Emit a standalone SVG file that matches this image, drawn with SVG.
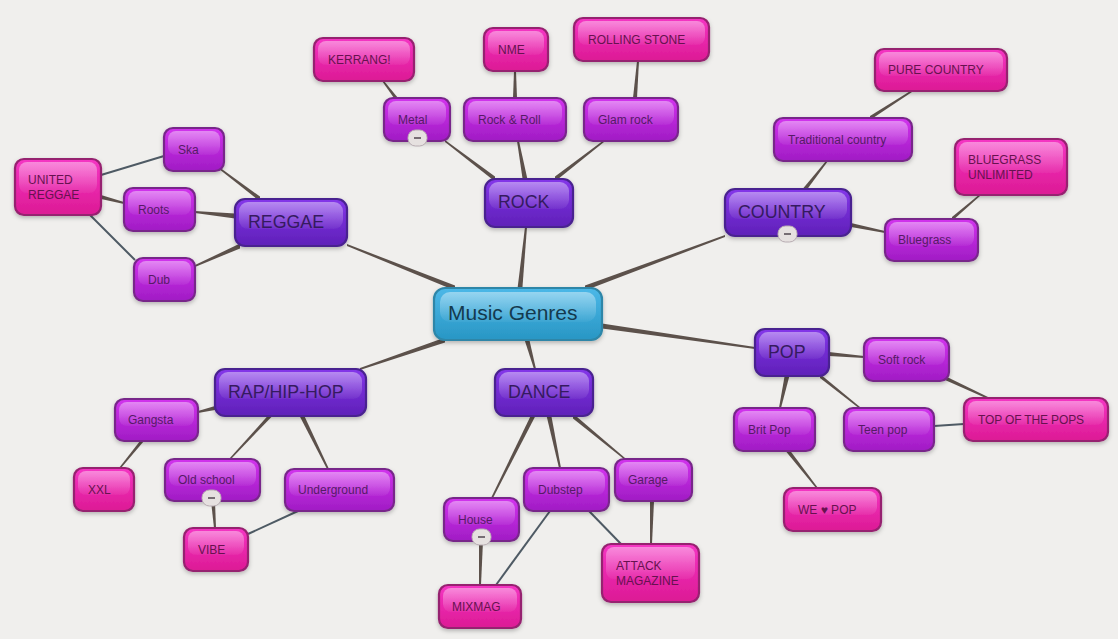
<svg xmlns="http://www.w3.org/2000/svg" width="1118" height="639" viewBox="0 0 1118 639">
<style>
text{font-family:"Liberation Sans",Arial,sans-serif;}
.box{stroke-width:2.2;filter:url(#sh);}
.gl{fill:url(#gloss);}
.c rect.box{fill:url(#gc);stroke:#2d86a8;}
.p rect.box{fill:url(#gp);stroke:#4a2390;}
.m rect.box{fill:url(#gm);stroke:#78288a;}
.k rect.box{fill:url(#gk);stroke:#96206f;}
.c text{font-size:21px;fill:#143a4e;}
.p text{font-size:17.8px;fill:#351a60;}
.m text{font-size:12px;fill:#561a66;}
.k text{font-size:12px;fill:#66124f;}
.a path{fill:#5c514b;}
.t line{stroke:#4e5a64;stroke-width:2;}
.minus rect{fill:#e6e1e0;stroke:#b9adb3;stroke-width:1;}
.minus line{stroke:#5a5058;stroke-width:1.6;}
</style>
<defs>
<linearGradient id="gc" x1="0" y1="0" x2="0" y2="1"><stop offset="0" stop-color="#4cb8e8"/><stop offset="1" stop-color="#2896c4"/></linearGradient>
<linearGradient id="gp" x1="0" y1="0" x2="0" y2="1"><stop offset="0" stop-color="#8436ea"/><stop offset="1" stop-color="#5f20b8"/></linearGradient>
<linearGradient id="gm" x1="0" y1="0" x2="0" y2="1"><stop offset="0" stop-color="#d232ee"/><stop offset="1" stop-color="#a01cc4"/></linearGradient>
<linearGradient id="gk" x1="0" y1="0" x2="0" y2="1"><stop offset="0" stop-color="#f535c4"/><stop offset="1" stop-color="#dc1a94"/></linearGradient>
<linearGradient id="gloss" x1="0" y1="0" x2="0" y2="1"><stop offset="0" stop-color="#fff" stop-opacity=".42"/><stop offset="1" stop-color="#fff" stop-opacity=".04"/></linearGradient>
<filter id="sh" x="-15%" y="-15%" width="130%" height="135%"><feDropShadow dx="0" dy="2" stdDeviation="2" flood-color="#000" flood-opacity=".25"/></filter>
</defs>
<rect width="1118" height="639" fill="#f0efed"/>
<g id="connectors" class="a">
<path d="M445 337.6L445 342.4L360 370L360 368Z"/>
<path d="M524.6 340L529.4 340L536 369L534 369Z"/>
<path d="M602 323.6L602 328.4L755 349L755 347Z"/>
<path d="M517.6 288L522.4 288L527 227L525 227Z"/>
<path d="M455 285.6L455 290.4L347 246L347 244Z"/>
<path d="M585 285.6L585 290.4L725 237L725 235Z"/>
<path d="M495 176.6L495 181.4L445 142L445 140Z"/>
<path d="M522.6 179L527.4 179L519 141L517 141Z"/>
<path d="M555 176.6L555 181.4L604 142L604 140Z"/>
<path d="M394 98L398 98L384 81L382 81Z"/>
<path d="M513 98L517 98L516 71L514 71Z"/>
<path d="M633 98L637 98L639 61L637 61Z"/>
<path d="M802.6 189L807.4 189L828 161L826 161Z"/>
<path d="M851 223L851 227L885 233L885 231Z"/>
<path d="M870 116L870 120L912 92L912 90Z"/>
<path d="M952 217L952 221L980 196L980 194Z"/>
<path d="M260 196.6L260 201.4L219 169L219 167Z"/>
<path d="M235 213.6L235 218.4L195 213L195 211Z"/>
<path d="M240 243.6L240 248.4L195 267L195 265Z"/>
<path d="M101 195L101 199L124 204L124 202Z"/>
<path d="M829 352L829 356L864 358L864 356Z"/>
<path d="M784.6 376L789.4 376L781 408L779 408Z"/>
<path d="M820 374L820 378L860 409L860 407Z"/>
<path d="M945 376L945 380L988 399L988 397Z"/>
<path d="M785.6 451L790.4 451L818 488L816 488Z"/>
<path d="M530.6 416L535.4 416L493 498L491 498Z"/>
<path d="M546.6 416L551.4 416L561 468L559 468Z"/>
<path d="M573 413.6L573 418.4L625 460L625 458Z"/>
<path d="M650 501L654 501L652 544L650 544Z"/>
<path d="M479 541L483 541L481 585L479 585Z"/>
<path d="M215 406L215 410L198 413L198 411Z"/>
<path d="M267.6 416L272.4 416L231 459L229 459Z"/>
<path d="M299.6 416L304.4 416L329 469L327 469Z"/>
<path d="M140 441L144 441L121 468L119 468Z"/>
<path d="M211 501L215 501L216 528L214 528Z"/>
<g class="t">
<line x1="101" y1="175" x2="164" y2="156"/>
<line x1="90" y1="215" x2="135" y2="260"/>
<line x1="934" y1="426" x2="964" y2="424"/>
<line x1="589" y1="511" x2="621" y2="544"/>
<line x1="550" y1="511" x2="496" y2="585"/>
<line x1="298" y1="511" x2="248" y2="534"/>
</g>
</g>
<g id="music-genres" class="c"><rect class="box" x="434" y="288" width="168" height="52" rx="11"/><rect class="gl" x="440" y="292" width="156" height="30" rx="10"/><text x="448" y="320">Music Genres</text></g>
<g id="rock" class="p"><rect class="box" x="485" y="179" width="88" height="48" rx="10"/><rect class="gl" x="489" y="182" width="80" height="27" rx="9"/><text x="498" y="208">ROCK</text></g>
<g id="reggae" class="p"><rect class="box" x="235" y="199" width="112" height="47" rx="10"/><rect class="gl" x="239" y="202" width="104" height="27" rx="9"/><text x="248" y="228">REGGAE</text></g>
<g id="country" class="p"><rect class="box" x="725" y="189" width="126" height="47" rx="10"/><rect class="gl" x="729" y="192" width="118" height="27" rx="9"/><text x="738" y="218">COUNTRY</text></g>
<g id="pop" class="p"><rect class="box" x="755" y="329" width="74" height="47" rx="10"/><rect class="gl" x="759" y="332" width="66" height="27" rx="9"/><text x="768" y="358">POP</text></g>
<g id="dance" class="p"><rect class="box" x="495" y="369" width="98" height="47" rx="10"/><rect class="gl" x="499" y="372" width="90" height="27" rx="9"/><text x="508" y="398">DANCE</text></g>
<g id="rap" class="p"><rect class="box" x="215" y="369" width="151" height="47" rx="10"/><rect class="gl" x="219" y="372" width="143" height="27" rx="9"/><text x="228" y="398">RAP/HIP-HOP</text></g>
<g id="metal" class="m"><rect class="box" x="384" y="98" width="66" height="43" rx="9"/><rect class="gl" x="388" y="101" width="58" height="24" rx="8"/><text x="398" y="124">Metal</text></g>
<g id="rock-roll" class="m"><rect class="box" x="464" y="98" width="102" height="43" rx="9"/><rect class="gl" x="468" y="101" width="94" height="24" rx="8"/><text x="478" y="124">Rock &amp; Roll</text></g>
<g id="glam-rock" class="m"><rect class="box" x="584" y="98" width="94" height="43" rx="9"/><rect class="gl" x="588" y="101" width="86" height="24" rx="8"/><text x="598" y="124">Glam rock</text></g>
<g id="ska" class="m"><rect class="box" x="164" y="128" width="60" height="43" rx="9"/><rect class="gl" x="168" y="131" width="52" height="24" rx="8"/><text x="178" y="154">Ska</text></g>
<g id="roots" class="m"><rect class="box" x="124" y="188" width="71" height="43" rx="9"/><rect class="gl" x="128" y="191" width="63" height="24" rx="8"/><text x="138" y="214">Roots</text></g>
<g id="dub" class="m"><rect class="box" x="134" y="258" width="61" height="43" rx="9"/><rect class="gl" x="138" y="261" width="53" height="24" rx="8"/><text x="148" y="284">Dub</text></g>
<g id="traditional-country" class="m"><rect class="box" x="774" y="118" width="138" height="43" rx="9"/><rect class="gl" x="778" y="121" width="130" height="24" rx="8"/><text x="788" y="144">Traditional country</text></g>
<g id="bluegrass" class="m"><rect class="box" x="885" y="219" width="93" height="42" rx="9"/><rect class="gl" x="889" y="222" width="85" height="24" rx="8"/><text x="898" y="244">Bluegrass</text></g>
<g id="soft-rock" class="m"><rect class="box" x="864" y="338" width="85" height="43" rx="9"/><rect class="gl" x="868" y="341" width="77" height="24" rx="8"/><text x="878" y="364">Soft rock</text></g>
<g id="brit-pop" class="m"><rect class="box" x="734" y="408" width="81" height="43" rx="9"/><rect class="gl" x="738" y="411" width="73" height="24" rx="8"/><text x="748" y="434">Brit Pop</text></g>
<g id="teen-pop" class="m"><rect class="box" x="844" y="408" width="90" height="43" rx="9"/><rect class="gl" x="848" y="411" width="82" height="24" rx="8"/><text x="858" y="434">Teen pop</text></g>
<g id="garage" class="m"><rect class="box" x="615" y="459" width="77" height="42" rx="9"/><rect class="gl" x="619" y="462" width="69" height="24" rx="8"/><text x="628" y="484">Garage</text></g>
<g id="dubstep" class="m"><rect class="box" x="524" y="468" width="85" height="43" rx="9"/><rect class="gl" x="528" y="471" width="77" height="24" rx="8"/><text x="538" y="494">Dubstep</text></g>
<g id="house" class="m"><rect class="box" x="444" y="498" width="75" height="43" rx="9"/><rect class="gl" x="448" y="501" width="67" height="24" rx="8"/><text x="458" y="524">House</text></g>
<g id="gangsta" class="m"><rect class="box" x="115" y="399" width="83" height="42" rx="9"/><rect class="gl" x="119" y="402" width="75" height="24" rx="8"/><text x="128" y="424">Gangsta</text></g>
<g id="old-school" class="m"><rect class="box" x="165" y="459" width="95" height="42" rx="9"/><rect class="gl" x="169" y="462" width="87" height="24" rx="8"/><text x="178" y="484">Old school</text></g>
<g id="underground" class="m"><rect class="box" x="285" y="469" width="109" height="42" rx="9"/><rect class="gl" x="289" y="472" width="101" height="24" rx="8"/><text x="298" y="494">Underground</text></g>
<g id="kerrang" class="k"><rect class="box" x="314" y="38" width="100" height="43" rx="9"/><rect class="gl" x="318" y="41" width="92" height="24" rx="8"/><text x="328" y="64">KERRANG!</text></g>
<g id="nme" class="k"><rect class="box" x="484" y="28" width="64" height="43" rx="9"/><rect class="gl" x="488" y="31" width="56" height="24" rx="8"/><text x="498" y="54">NME</text></g>
<g id="rolling-stone" class="k"><rect class="box" x="574" y="18" width="135" height="43" rx="9"/><rect class="gl" x="578" y="21" width="127" height="24" rx="8"/><text x="588" y="44">ROLLING STONE</text></g>
<g id="pure-country" class="k"><rect class="box" x="875" y="49" width="132" height="42" rx="9"/><rect class="gl" x="879" y="52" width="124" height="24" rx="8"/><text x="888" y="74">PURE COUNTRY</text></g>
<g id="bluegrass-unlimited" class="k"><rect class="box" x="955" y="139" width="112" height="56" rx="9"/><rect class="gl" x="959" y="142" width="104" height="31" rx="8"/><text x="968" y="164">BLUEGRASS</text><text x="968" y="179">UNLIMITED</text></g>
<g id="united-reggae" class="k"><rect class="box" x="15" y="159" width="86" height="56" rx="9"/><rect class="gl" x="19" y="162" width="78" height="31" rx="8"/><text x="28" y="184">UNITED</text><text x="28" y="199">REGGAE</text></g>
<g id="top-of-the-pops" class="k"><rect class="box" x="964" y="398" width="144" height="43" rx="9"/><rect class="gl" x="968" y="401" width="136" height="24" rx="8"/><text x="978" y="424" textLength="106">TOP OF THE POPS</text></g>
<g id="we-pop" class="k"><rect class="box" x="784" y="488" width="97" height="43" rx="9"/><rect class="gl" x="788" y="491" width="89" height="24" rx="8"/><text x="798" y="514">WE ♥ POP</text></g>
<g id="attack-magazine" class="k"><rect class="box" x="602" y="544" width="97" height="58" rx="9"/><rect class="gl" x="606" y="547" width="89" height="32" rx="8"/><text x="616" y="570">ATTACK</text><text x="616" y="585">MAGAZINE</text></g>
<g id="mixmag" class="k"><rect class="box" x="439" y="585" width="82" height="43" rx="9"/><rect class="gl" x="443" y="588" width="74" height="24" rx="8"/><text x="452" y="611">MIXMAG</text></g>
<g id="vibe" class="k"><rect class="box" x="184" y="528" width="64" height="43" rx="9"/><rect class="gl" x="188" y="531" width="56" height="24" rx="8"/><text x="198" y="554">VIBE</text></g>
<g id="xxl" class="k"><rect class="box" x="74" y="468" width="60" height="43" rx="9"/><rect class="gl" x="78" y="471" width="52" height="24" rx="8"/><text x="88" y="494">XXL</text></g>
<g id="collapse-metal" class="minus"><rect x="408" y="130" width="19" height="16" rx="7.5"/><line x1="414" y1="138" x2="421" y2="138"/></g>
<g id="collapse-country" class="minus"><rect x="778" y="226" width="19" height="16" rx="7.5"/><line x1="784" y1="234" x2="791" y2="234"/></g>
<g id="collapse-old-school" class="minus"><rect x="202" y="490" width="19" height="16" rx="7.5"/><line x1="208" y1="498" x2="215" y2="498"/></g>
<g id="collapse-house" class="minus"><rect x="472" y="529" width="19" height="16" rx="7.5"/><line x1="478" y1="537" x2="485" y2="537"/></g>
</svg>
